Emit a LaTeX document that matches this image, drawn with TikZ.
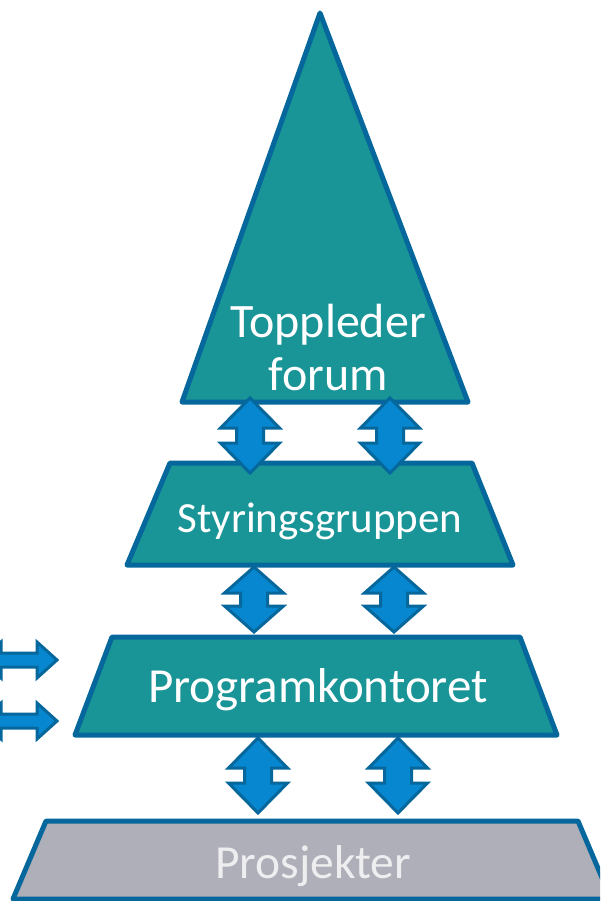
\documentclass[tikz,border=0pt]{standalone}
\usepackage{fontspec}
\setmainfont{Carlito}
\usetikzlibrary{calc}
\definecolor{tealfill}{HTML}{1A9597}
\definecolor{edgeblue}{HTML}{05679B}
\definecolor{arrowblue}{HTML}{0787D0}
\definecolor{greyfill}{HTML}{AEAFB8}
\definecolor{greytext}{HTML}{EEEEF0}

\begin{document}
\begin{tikzpicture}[
  x=1pt, y=-1pt,
  % Styles
  level/.style={draw=edgeblue, line width=5pt, line join=round, fill=tealfill},
  baselevel/.style={level, fill=greyfill},
  blockarrow/.style={draw=edgeblue, line width=3pt, line join=miter, fill=arrowblue},
  lvltext/.style={text=white, align=center, inner sep=0pt},
  % Block arrows (#1 = length)
  pics/updown/.style={code={
    \draw[blockarrow] (0,0) -- (29.5,{0.4*#1}) -- (13.5,{0.4*#1}) -- (13.5,{0.6*#1})
      -- (29.5,{0.6*#1}) -- (0,#1) -- (-29.5,{0.6*#1}) -- (-13.5,{0.6*#1})
      -- (-13.5,{0.4*#1}) -- (-29.5,{0.4*#1}) -- cycle;
  }},
  pics/sideways/.style={code={
    \draw[blockarrow] (0,0) -- (-20,-18) -- (-20,-7) -- (-56,-7) -- (-56,-18)
      -- (-76,0) -- (-56,18) -- (-56,7) -- (-20,7) -- (-20,18) -- cycle;
  }},
]
\clip (0,0) rectangle (600,901);
\useasboundingbox (0,0) rectangle (600,901);

% === Levels ===
\draw[level] (320,13) -- (468,402) -- (182,402) -- cycle;
\draw[level] (170,463) -- (472,463) -- (513,565) -- (127,565) -- cycle;
\draw[level] (112,637) -- (520,637) -- (557,735) -- (75,735) -- cycle;
\draw[baselevel] (46,821) -- (578,821) -- (611,899) -- (13,899) -- cycle;

% === Texts ===
\node[lvltext, font=\fontsize{48}{53}\selectfont] (forum) at (328,348) {Toppleder\\forum};
\node[lvltext, font=\fontsize{43}{48}\selectfont] (steer) at (320,521) {Styringsgruppen};
\node[lvltext, font=\fontsize{49}{54}\selectfont] (office) at (318,690) {Programkontoret};
\node[lvltext, text=greytext, font=\fontsize{47.5}{52}\selectfont] (proj) at (313,866) {Prosjekter};

% === Arrows between levels ===
\pic (upA) at (250,398) {updown=75};
\pic (upB) at (390,398) {updown=75};
\pic (midA) at (254,567) {updown=65};
\pic (midB) at (394,567) {updown=65};
\pic (lowA) at (258,738) {updown=75};
\pic (lowB) at (398,738) {updown=75};

% === Side inputs ===
\pic (inA) at (57,660) {sideways};
\pic (inB) at (57,721) {sideways};

\end{tikzpicture}
\end{document}
